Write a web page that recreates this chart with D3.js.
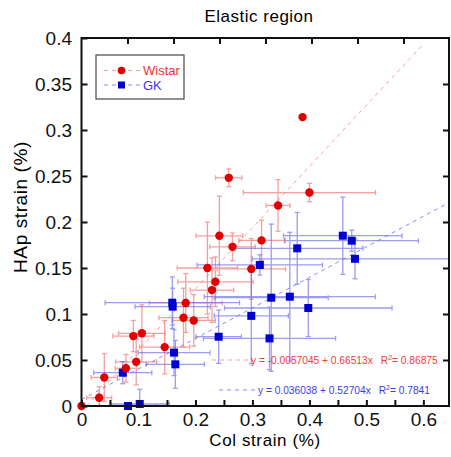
<!DOCTYPE html>
<html>
<head>
<meta charset="utf-8">
<script src="https://cdn.jsdelivr.net/npm/d3@7"></script>
<style>
  body { margin: 0; background: #fff; }
  text { font-family: "Liberation Sans", Arial, sans-serif; }
</style>
</head>
<body>
<div id="chart"></div>
<script>
const width = 451,
    height = 457,
    frame = { left: 81.5, right: 449, top: 38, bottom: 406 };

// Wistar (red circles)
const wistarX = [0, 0.031, 0.040, 0.078, 0.096, 0.091, 0.106, 0.146, 0.179, 0.197, 0.183,
    0.221, 0.235, 0.229, 0.298, 0.316, 0.345, 0.400, 0.388, 0.2585, 0.242, 0.265];
const wistarY = [0, 0.009, 0.031, 0.041, 0.048, 0.076, 0.079, 0.064, 0.096, 0.093, 0.112,
    0.150, 0.135, 0.126, 0.149, 0.180, 0.218, 0.232, 0.314, 0.248, 0.185, 0.173];
const wistarXErr = [0, 0.022, 0.023, 0.019, 0.036, 0.036, 0.041, 0.044, 0.043, 0.038, 0.064,
    0.053, 0.066, 0.038, 0.060, 0.040, 0.021, 0.116, 0, 0.023, 0.041, 0.040];
const wistarYErr = [0, 0.012, 0.026, 0.015, 0.025, 0.017, 0.031, 0.029, 0.032, 0.028, 0.032,
    0.050, 0.027, 0.035, 0.033, 0.022, 0.028, 0.010, 0, 0.0096, 0.043, 0.015];

// GK (blue squares)
const gkX = [0.4586, 0.4743, 0.3786, 0.480, 0.313, 0.333, 0.3656, 0.398, 0.298, 0.2407,
    0.330, 0.1594, 0.160, 0.1624, 0.1647, 0.0724, 0.0817, 0.1022];
const gkY = [0.1851, 0.1797, 0.1714, 0.160, 0.1533, 0.1177, 0.1188, 0.1065, 0.098, 0.0753,
    0.0735, 0.1123, 0.108, 0.058, 0.0453, 0.0362, 0, 0.0022];
const gkXErr = [0.104, 0.117, 0.115, 0.180, 0.110, 0.100, 0.150, 0.147, 0.065, 0.040,
    0.116, 0.118, 0.066, 0.063, 0.051, 0.051, 0.050, 0.052];
const gkYErr = [0.042, 0.0115, 0.039, 0.0217, 0.011, 0.080, 0.070, 0.031, 0.052, 0.029,
    0.034, 0.028, 0.020, 0.025, 0.026, 0.012, 0, 0.016];

// fitted lines as drawn (intercept, slope, x range) and their printed equations
const wistarFit = { a: -0.0057045, b: 0.66513, from: 0.0086, to: 0.6 };
const gkFit = { a: 0.007, b: 0.332, from: 0, to: 0.645 };
const wistarEq = ['y = -0.0057045 + 0.66513x', 'R', '2', '= 0.86875'];
const gkEq = ['y = 0.036038 + 0.52704x', 'R', '2', '= 0.7841'];

const xTicks = [0, 0.1, 0.2, 0.3, 0.4, 0.5, 0.6];
const xMinorTicks = [0.05, 0.1, 0.15, 0.2, 0.25, 0.3, 0.35, 0.4, 0.45, 0.5, 0.55, 0.6];
const yTicks = [0, 0.05, 0.1, 0.15, 0.2, 0.25, 0.3, 0.35, 0.4];

const red = '#e00000', redLight = '#f06060', blue = '#0000d0', blueLight = '#5a5ae8';

let svg = d3.select('#chart')
    .append('svg')
    .attr('width', width)
    .attr('height', height);

let xScale = d3.scaleLinear().domain([0, 0.645]).range([frame.left, frame.right]);
let yScale = d3.scaleLinear().domain([0, 0.4]).range([frame.bottom, frame.top]);
// top ticks follow the y spacing in the original figure
let topScale = d3.scaleLinear().domain([0, 0.4])
    .range([frame.left, frame.left + (frame.bottom - frame.top)]);

svg.append('clipPath').attr('id', 'clip')
    .append('rect')
    .attr('x', frame.left).attr('y', frame.top)
    .attr('width', frame.right - frame.left)
    .attr('height', frame.bottom - frame.top);

let plotG = svg.append('g').attr('clip-path', 'url(#clip)');

// regression lines
let drawFit = (fit, color) => {
    plotG.append('line')
        .attr('x1', xScale(fit.from)).attr('y1', yScale(fit.a + fit.b * fit.from))
        .attr('x2', xScale(fit.to)).attr('y2', yScale(fit.a + fit.b * fit.to))
        .attr('stroke', color)
        .attr('stroke-width', 1)
        .attr('stroke-dasharray', '4,4');
}
drawFit(wistarFit, '#f4a0a0');
drawFit(gkFit, '#8a8af0');

// error bars
let drawErrors = (xs, ys, ex, ey, color) => {
    let g = plotG.append('g')
        .attr('stroke', color)
        .attr('stroke-width', 1.3)
        .attr('opacity', 0.6);
    const cap = 2.5;
    xs.forEach((xv, i) => {
        let cx = xScale(xv), cy = yScale(ys[i]);
        if (ex[i] > 0) {
            let x1 = xScale(xv - ex[i]), x2 = xScale(xv + ex[i]);
            g.append('line').attr('x1', x1).attr('x2', x2).attr('y1', cy).attr('y2', cy);
            g.append('line').attr('x1', x1).attr('x2', x1).attr('y1', cy - cap).attr('y2', cy + cap);
            g.append('line').attr('x1', x2).attr('x2', x2).attr('y1', cy - cap).attr('y2', cy + cap);
        }
        if (ey[i] > 0) {
            let y1 = yScale(ys[i] - ey[i]), y2 = yScale(ys[i] + ey[i]);
            g.append('line').attr('x1', cx).attr('x2', cx).attr('y1', y1).attr('y2', y2);
            g.append('line').attr('x1', cx - cap).attr('x2', cx + cap).attr('y1', y1).attr('y2', y1);
            g.append('line').attr('x1', cx - cap).attr('x2', cx + cap).attr('y1', y2).attr('y2', y2);
        }
    });
}
drawErrors(wistarX, wistarY, wistarXErr, wistarYErr, redLight);
drawErrors(gkX, gkY, gkXErr, gkYErr, blueLight);

// markers
svg.append('g').selectAll('.gk')
    .data(gkX)
    .enter()
    .append('rect')
    .attr('class', 'gk')
    .attr('x', (d) => xScale(d) - 4)
    .attr('y', (d, i) => yScale(gkY[i]) - 4)
    .attr('width', 8)
    .attr('height', 8)
    .attr('fill', blue);

svg.append('g').selectAll('.wistar')
    .data(wistarX)
    .enter()
    .append('circle')
    .attr('class', 'wistar')
    .attr('cx', (d) => xScale(d))
    .attr('cy', (d, i) => yScale(wistarY[i]))
    .attr('r', 4.2)
    .attr('fill', red);

// axes
let xAxis = d3.axisBottom(xScale)
    .tickValues(xMinorTicks.concat([0]))
    .tickSize(-6)
    .tickPadding(7)
    .tickFormat((d) => xTicks.some((t) => Math.abs(t - d) < 1e-9) ? d3.format('~g')(d) : '');
let yAxis = d3.axisLeft(yScale)
    .tickValues(yTicks)
    .tickSize(-6)
    .tickPadding(9.5)
    .tickFormat(d3.format('~g'));
let yAxisRight = d3.axisRight(yScale)
    .tickValues(yTicks.slice(1, -1))
    .tickSize(-6)
    .tickFormat('');
let topAxis = d3.axisTop(topScale)
    .tickValues(yTicks.slice(1, -1))
    .tickSize(-6)
    .tickFormat('');

let styleAxis = (g) => {
    g.select('.domain').remove();
    g.selectAll('line').attr('stroke', '#111').attr('stroke-width', 2);
    g.selectAll('text').attr('fill', '#111').style('font-size', '19px')
        .style('font-family', '"Liberation Sans", Arial, sans-serif');
}

svg.append('g').attr('transform', 'translate(0,' + frame.bottom + ')').call(xAxis).call(styleAxis);
svg.append('g').attr('transform', 'translate(' + frame.left + ',0)').call(yAxis).call(styleAxis);
svg.append('g').attr('transform', 'translate(' + frame.right + ',0)').call(yAxisRight).call(styleAxis);
svg.append('g').attr('transform', 'translate(0,' + frame.top + ')').call(topAxis).call(styleAxis);

svg.append('rect')
    .attr('x', frame.left).attr('y', frame.top)
    .attr('width', frame.right - frame.left)
    .attr('height', frame.bottom - frame.top)
    .attr('fill', 'none')
    .attr('stroke', '#111')
    .attr('stroke-width', 2);

// titles
svg.append('text')
    .attr('x', 259).attr('y', 22)
    .attr('text-anchor', 'middle')
    .style('font-size', '17px')
    .style('letter-spacing', '0.5px')
    .text('Elastic region');
svg.append('text')
    .attr('x', 265).attr('y', 446)
    .attr('text-anchor', 'middle')
    .style('font-size', '17px')
    .style('letter-spacing', '0.6px')
    .text('Col strain (%)');
svg.append('text')
    .attr('transform', 'translate(27,207) rotate(-90)')
    .attr('text-anchor', 'middle')
    .style('font-size', '19px')
    .style('letter-spacing', '0.6px')
    .text('HAp strain (%)');

// legend
let legend = svg.append('g');
legend.append('rect')
    .attr('x', 96).attr('y', 55).attr('width', 88).attr('height', 44)
    .attr('fill', '#fff').attr('stroke', '#555').attr('stroke-width', 1.3);
[['Wistar', red, '#f4a0a0', '#f03030', 'circle'], ['GK', blue, '#8a8af0', '#3a3af0', 'rect']]
    .forEach((row, i) => {
        let ly = 70.5 + i * 14.5;
        legend.append('line')
            .attr('x1', 104).attr('x2', 140).attr('y1', ly).attr('y2', ly)
            .attr('stroke', row[2]).attr('stroke-dasharray', '4,4');
        if (row[4] == 'circle') {
            legend.append('circle').attr('cx', 121.5).attr('cy', ly).attr('r', 3.8).attr('fill', row[1]);
        } else {
            legend.append('rect').attr('x', 118).attr('y', ly - 3.5).attr('width', 7).attr('height', 7).attr('fill', row[1]);
        }
        legend.append('text')
            .attr('x', 143).attr('y', ly)
            .attr('dy', '0.35em')
            .attr('fill', row[3])
            .style('font-size', '13px')
            .text(row[0]);
    });

// fit equations
let drawEq = (eq, x, y, lineX1, lineX2, textColor, lineColor) => {
    svg.append('line')
        .attr('x1', lineX1).attr('x2', lineX2).attr('y1', y - 3).attr('y2', y - 3)
        .attr('stroke', lineColor).attr('stroke-dasharray', '4,4');
    let t = svg.append('text')
        .attr('x', x).attr('y', y + 1)
        .attr('fill', textColor)
        .style('font-size', '10.2px');
    t.append('tspan').text(eq[0]);
    t.append('tspan').attr('dx', 8).text(eq[1]);
    t.append('tspan').attr('dy', -4.5).style('font-size', '7px').text(eq[2]);
    t.append('tspan').attr('dy', 4.5).text(eq[3]);
}
drawEq(wistarEq, 251, 363, 212, 250, '#f03a3a', '#f4a0a0');
drawEq(gkEq, 258, 393, 219, 256, '#3a3af0', '#8a8af0');
</script>
</body>
</html>
